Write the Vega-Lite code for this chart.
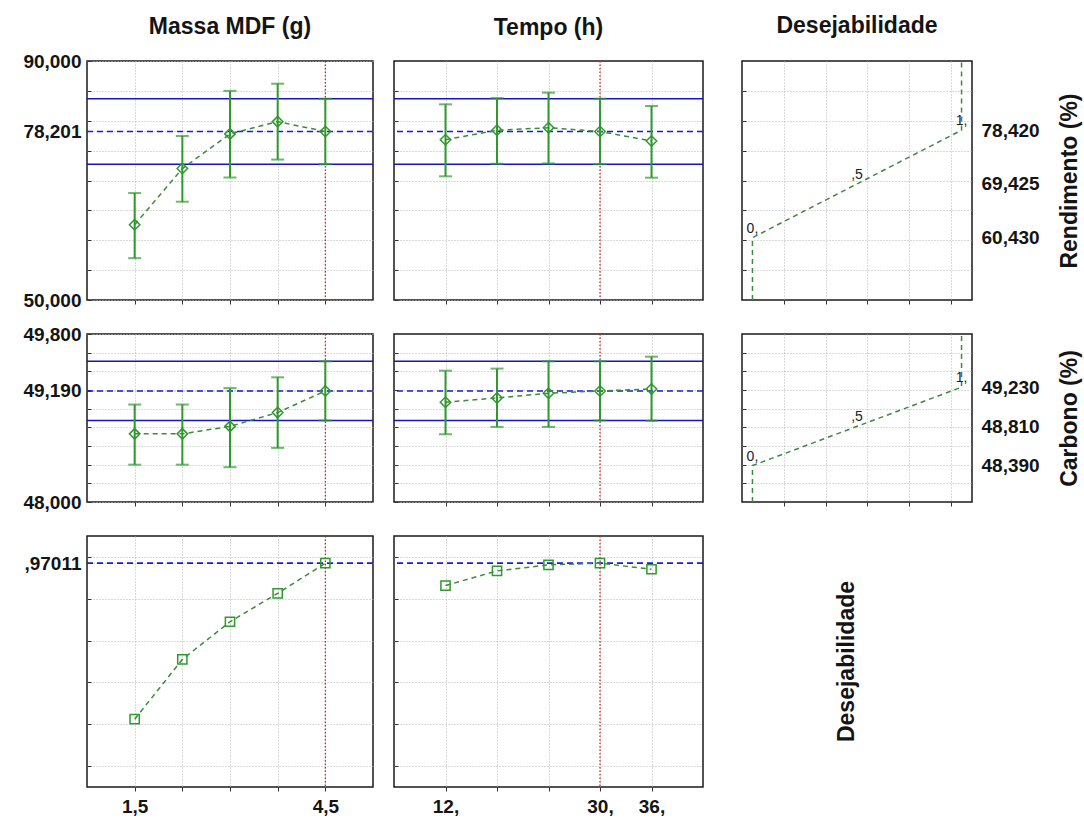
{
 "$schema": "https://vega.github.io/schema/vega-lite/v6.json",
 "background": "white",
 "padding": {"left": 22, "top": 14, "right": 6, "bottom": 6},
 "columns": 3,
 "spacing": {"row": 13, "column": 17},
 "align": "each",
 "bounds": "full",
 "datasets": {
  "prof": [
   {"resp":"R","fac":"M","x":1.5,"y":62.6,"lo":57.0,"hi":67.9},
   {"resp":"R","fac":"M","x":2.25,"y":72.0,"lo":66.45,"hi":77.45},
   {"resp":"R","fac":"M","x":3,"y":77.8,"lo":70.5,"hi":85.0},
   {"resp":"R","fac":"M","x":3.75,"y":79.85,"lo":73.5,"hi":86.2},
   {"resp":"R","fac":"M","x":4.5,"y":78.201,"lo":72.71,"hi":83.69},
   {"resp":"R","fac":"T","x":12,"y":76.83,"lo":70.7,"hi":82.75},
   {"resp":"R","fac":"T","x":18,"y":78.4,"lo":72.8,"hi":83.8},
   {"resp":"R","fac":"T","x":24,"y":78.84,"lo":72.85,"hi":84.7},
   {"resp":"R","fac":"T","x":30,"y":78.201,"lo":72.71,"hi":83.69},
   {"resp":"R","fac":"T","x":36,"y":76.61,"lo":70.47,"hi":82.47},
   {"resp":"C","fac":"M","x":1.5,"y":48.73,"lo":48.4,"hi":49.044},
   {"resp":"C","fac":"M","x":2.25,"y":48.73,"lo":48.4,"hi":49.044},
   {"resp":"C","fac":"M","x":3,"y":48.81,"lo":48.373,"hi":49.22},
   {"resp":"C","fac":"M","x":3.75,"y":48.958,"lo":48.58,"hi":49.336},
   {"resp":"C","fac":"M","x":4.5,"y":49.19,"lo":48.873,"hi":49.507},
   {"resp":"C","fac":"T","x":12,"y":49.069,"lo":48.726,"hi":49.407},
   {"resp":"C","fac":"T","x":18,"y":49.115,"lo":48.805,"hi":49.429},
   {"resp":"C","fac":"T","x":24,"y":49.165,"lo":48.805,"hi":49.507},
   {"resp":"C","fac":"T","x":30,"y":49.19,"lo":48.873,"hi":49.507},
   {"resp":"C","fac":"T","x":36,"y":49.21,"lo":48.87,"hi":49.557},
   {"resp":"D","fac":"M","x":1.5,"y":0.224},
   {"resp":"D","fac":"M","x":2.25,"y":0.51},
   {"resp":"D","fac":"M","x":3,"y":0.69},
   {"resp":"D","fac":"M","x":3.75,"y":0.826},
   {"resp":"D","fac":"M","x":4.5,"y":0.97011},
   {"resp":"D","fac":"T","x":12,"y":0.863},
   {"resp":"D","fac":"T","x":18,"y":0.933},
   {"resp":"D","fac":"T","x":24,"y":0.962},
   {"resp":"D","fac":"T","x":30,"y":0.97011},
   {"resp":"D","fac":"T","x":36,"y":0.941}
  ],
  "refs": [
   {"resp":"R","pred":78.201,"lo":72.71,"hi":83.69},
   {"resp":"C","pred":49.19,"lo":48.873,"hi":49.507},
   {"resp":"D","pred":0.97011}
  ],
  "cur": [{"fac":"M","x":4.5},{"fac":"T","x":30}],
  "desir": [
   {"resp":"R","o":1,"d":0,"y":50},{"resp":"R","o":2,"d":0,"y":60.43},{"resp":"R","o":3,"d":1,"y":78.42},{"resp":"R","o":4,"d":1,"y":90},
   {"resp":"C","o":1,"d":0,"y":48},{"resp":"C","o":2,"d":0,"y":48.39},{"resp":"C","o":3,"d":1,"y":49.23},{"resp":"C","o":4,"d":1,"y":49.8}
  ],
  "dlab": [
   {"resp":"R","d":0,"y":60.43,"t":"0,"},{"resp":"R","d":0.5,"y":69.425,"t":",5"},{"resp":"R","d":1,"y":78.42,"t":"1,"},
   {"resp":"C","d":0,"y":48.39,"t":"0,"},{"resp":"C","d":0.5,"y":48.81,"t":",5"},{"resp":"C","d":1,"y":49.23,"t":"1,"}
  ]
 },
 "concat": [
  {
   "width": 286, "height": 239,
   "title": {"text": "Massa MDF (g)", "offset": 13},
   "layer": [
    {"data":{"name":"refs"},"transform":[{"filter":"datum.resp=='R'"}],"mark":{"type":"rule","color":"#1414c4","strokeWidth":1.5},
     "encoding":{"y":{"field":"lo","type":"quantitative","scale":{"domain":[50,90],"nice":false,"zero":false},
       "axis":{"values":[50,55,60,65,70,75,78.201,80,85,89.9999],"tickCount":50,"labelExpr":"datum.value>89.99?'90,000':datum.value==78.201?'78,201':datum.value==50?'50,000':''","labelOverlap":false,"tickSize":-4,"labelPadding":10,"minExtent":64,"maxExtent":64,"title":null}}}},
    {"data":{"name":"refs"},"transform":[{"filter":"datum.resp=='R'"}],"mark":{"type":"rule","color":"#1414c4","strokeWidth":1.5},"encoding":{"y":{"field":"hi","type":"quantitative"}}},
    {"data":{"name":"refs"},"transform":[{"filter":"datum.resp=='R'"}],"mark":{"type":"rule","color":"#1a1ae0","strokeWidth":1.6,"strokeDash":[6,4]},"encoding":{"y":{"field":"pred","type":"quantitative"}}},
    {"data":{"name":"cur"},"transform":[{"filter":"datum.fac=='M'"}],"mark":{"type":"rule","color":"#e01010","strokeWidth":1.2,"strokeDash":[1.5,2]},
     "encoding":{"x":{"field":"x","type":"quantitative","scale":{"domain":[0.75,5.25],"nice":false,"zero":false},"axis":{"values":[1.5,2.25,3,3.75,4.5],"tickCount":50,"labels":false,"tickSize":4,"title":null}}}},
    {"data":{"name":"prof"},"transform":[{"filter":"datum.resp=='R' && datum.fac=='M'"}],"mark":{"type":"errorbar","color":"#2e9a2e","thickness":2,"ticks":{"size":13,"color":"#2e9a2e","strokeWidth":2}},
     "encoding":{"x":{"field":"x","type":"quantitative"},"y":{"field":"lo","type":"quantitative"},"y2":{"field":"hi"}}},
    {"data":{"name":"prof"},"transform":[{"filter":"datum.resp=='R' && datum.fac=='M'"}],"mark":{"type":"line","color":"#3c8a3c","strokeWidth":1.5,"strokeDash":[5,4]},
     "encoding":{"x":{"field":"x","type":"quantitative"},"y":{"field":"y","type":"quantitative"}}},
    {"data":{"name":"prof"},"transform":[{"filter":"datum.resp=='R' && datum.fac=='M'"}],"mark":{"type":"point","shape":"diamond","filled":false,"color":"#2e9a2e","size":110,"strokeWidth":1.5,"opacity":1},
     "encoding":{"x":{"field":"x","type":"quantitative"},"y":{"field":"y","type":"quantitative"}}}
   ]
  },
  {
   "width": 309, "height": 239,
   "title": {"text": "Tempo (h)"},
   "layer": [
    {"data":{"name":"refs"},"transform":[{"filter":"datum.resp=='R'"}],"mark":{"type":"rule","color":"#1414c4","strokeWidth":1.5},
     "encoding":{"y":{"field":"lo","type":"quantitative","scale":{"domain":[50,90],"nice":false,"zero":false},
       "axis":{"values":[50,55,60,65,70,75,80,85],"tickCount":50,"labels":false,"tickSize":-4,"minExtent":0,"maxExtent":0,"title":null}}}},
    {"data":{"name":"refs"},"transform":[{"filter":"datum.resp=='R'"}],"mark":{"type":"rule","color":"#1414c4","strokeWidth":1.5},"encoding":{"y":{"field":"hi","type":"quantitative"}}},
    {"data":{"name":"refs"},"transform":[{"filter":"datum.resp=='R'"}],"mark":{"type":"rule","color":"#1a1ae0","strokeWidth":1.6,"strokeDash":[6,4]},"encoding":{"y":{"field":"pred","type":"quantitative"}}},
    {"data":{"name":"cur"},"transform":[{"filter":"datum.fac=='T'"}],"mark":{"type":"rule","color":"#e01010","strokeWidth":1.2,"strokeDash":[1.5,2]},
     "encoding":{"x":{"field":"x","type":"quantitative","scale":{"domain":[6,42],"nice":false,"zero":false},"axis":{"values":[12,18,24,30,36],"tickCount":50,"labels":false,"tickSize":4,"title":null}}}},
    {"data":{"name":"prof"},"transform":[{"filter":"datum.resp=='R' && datum.fac=='T'"}],"mark":{"type":"errorbar","color":"#2e9a2e","thickness":2,"ticks":{"size":13,"color":"#2e9a2e","strokeWidth":2}},
     "encoding":{"x":{"field":"x","type":"quantitative"},"y":{"field":"lo","type":"quantitative"},"y2":{"field":"hi"}}},
    {"data":{"name":"prof"},"transform":[{"filter":"datum.resp=='R' && datum.fac=='T'"}],"mark":{"type":"line","color":"#3c8a3c","strokeWidth":1.5,"strokeDash":[5,4]},
     "encoding":{"x":{"field":"x","type":"quantitative"},"y":{"field":"y","type":"quantitative"}}},
    {"data":{"name":"prof"},"transform":[{"filter":"datum.resp=='R' && datum.fac=='T'"}],"mark":{"type":"point","shape":"diamond","filled":false,"color":"#2e9a2e","size":110,"strokeWidth":1.5,"opacity":1},
     "encoding":{"x":{"field":"x","type":"quantitative"},"y":{"field":"y","type":"quantitative"}}}
   ]
  },
  {
   "width": 230, "height": 239,
   "title": {"text": "Desejabilidade"},
   "resolve": {"axis": {"y": "independent"}},
   "layer": [
    {"data":{"name":"desir"},"transform":[{"filter":"datum.resp=='R'"}],"mark":{"type":"line","color":"#3c8a3c","strokeWidth":1.5,"strokeDash":[5,4]},
     "encoding":{
      "x":{"field":"d","type":"quantitative","scale":{"domain":[-0.05,1.05],"nice":false,"zero":false},"axis":{"values":[0.15,0.35,0.55,0.75,0.95],"tickCount":50,"labels":false,"tickSize":4,"title":null}},
      "y":{"field":"y","type":"quantitative","scale":{"domain":[50,90],"nice":false,"zero":false},"axis":{"orient":"left","values":[55,60,65,70,75,80,85],"tickCount":50,"labels":false,"tickSize":-4,"minExtent":19,"maxExtent":19,"title":null}},
      "order":{"field":"o","type":"quantitative"}}},
    {"data":{"name":"dlab"},"transform":[{"filter":"datum.resp=='R'"}],"mark":{"type":"text","baseline":"bottom","align":"center","dy":-2,"fontSize":14,"color":"#222222"},
     "encoding":{
      "x":{"field":"d","type":"quantitative","axis":{"title":null}},
      "y":{"field":"y","type":"quantitative","axis":{"orient":"right","values":[60.43,69.425,78.42],"tickCount":50,"labelExpr":"replace(format(datum.value,'.3f'),'.',',')","labelOverlap":false,"grid":false,"ticks":false,"labelPadding":9,"minExtent":0,"title":"Rendimento (%)","titleAngle":270,"titleBaseline":"top","titlePadding":19}},
      "text":{"field":"t"}}}
   ]
  },
  {
   "width": 286, "height": 168,
   "layer": [
    {"data":{"name":"refs"},"transform":[{"filter":"datum.resp=='C'"}],"mark":{"type":"rule","color":"#1414c4","strokeWidth":1.5},
     "encoding":{"y":{"field":"lo","type":"quantitative","scale":{"domain":[48,49.8],"nice":false,"zero":false},
       "axis":{"values":[48,48.2,48.4,48.6,48.8,49,49.19,49.2,49.4,49.6,49.79999],"tickCount":50,"labelExpr":"datum.value>49.79?'49,800':datum.value==49.19?'49,190':datum.value==48?'48,000':''","labelOverlap":false,"tickSize":-4,"labelPadding":10,"minExtent":64,"maxExtent":64,"title":null}}}},
    {"data":{"name":"refs"},"transform":[{"filter":"datum.resp=='C'"}],"mark":{"type":"rule","color":"#1414c4","strokeWidth":1.5},"encoding":{"y":{"field":"hi","type":"quantitative"}}},
    {"data":{"name":"refs"},"transform":[{"filter":"datum.resp=='C'"}],"mark":{"type":"rule","color":"#1a1ae0","strokeWidth":1.6,"strokeDash":[6,4]},"encoding":{"y":{"field":"pred","type":"quantitative"}}},
    {"data":{"name":"cur"},"transform":[{"filter":"datum.fac=='M'"}],"mark":{"type":"rule","color":"#e01010","strokeWidth":1.2,"strokeDash":[1.5,2]},
     "encoding":{"x":{"field":"x","type":"quantitative","scale":{"domain":[0.75,5.25],"nice":false,"zero":false},"axis":{"values":[1.5,2.25,3,3.75,4.5],"tickCount":50,"labels":false,"tickSize":4,"title":null}}}},
    {"data":{"name":"prof"},"transform":[{"filter":"datum.resp=='C' && datum.fac=='M'"}],"mark":{"type":"errorbar","color":"#2e9a2e","thickness":2,"ticks":{"size":13,"color":"#2e9a2e","strokeWidth":2}},
     "encoding":{"x":{"field":"x","type":"quantitative"},"y":{"field":"lo","type":"quantitative"},"y2":{"field":"hi"}}},
    {"data":{"name":"prof"},"transform":[{"filter":"datum.resp=='C' && datum.fac=='M'"}],"mark":{"type":"line","color":"#3c8a3c","strokeWidth":1.5,"strokeDash":[5,4]},
     "encoding":{"x":{"field":"x","type":"quantitative"},"y":{"field":"y","type":"quantitative"}}},
    {"data":{"name":"prof"},"transform":[{"filter":"datum.resp=='C' && datum.fac=='M'"}],"mark":{"type":"point","shape":"diamond","filled":false,"color":"#2e9a2e","size":110,"strokeWidth":1.5,"opacity":1},
     "encoding":{"x":{"field":"x","type":"quantitative"},"y":{"field":"y","type":"quantitative"}}}
   ]
  },
  {
   "width": 309, "height": 168,
   "layer": [
    {"data":{"name":"refs"},"transform":[{"filter":"datum.resp=='C'"}],"mark":{"type":"rule","color":"#1414c4","strokeWidth":1.5},
     "encoding":{"y":{"field":"lo","type":"quantitative","scale":{"domain":[48,49.8],"nice":false,"zero":false},
       "axis":{"values":[48,48.2,48.4,48.6,48.8,49,49.2,49.4,49.6],"tickCount":50,"labels":false,"tickSize":-4,"minExtent":0,"maxExtent":0,"title":null}}}},
    {"data":{"name":"refs"},"transform":[{"filter":"datum.resp=='C'"}],"mark":{"type":"rule","color":"#1414c4","strokeWidth":1.5},"encoding":{"y":{"field":"hi","type":"quantitative"}}},
    {"data":{"name":"refs"},"transform":[{"filter":"datum.resp=='C'"}],"mark":{"type":"rule","color":"#1a1ae0","strokeWidth":1.6,"strokeDash":[6,4]},"encoding":{"y":{"field":"pred","type":"quantitative"}}},
    {"data":{"name":"cur"},"transform":[{"filter":"datum.fac=='T'"}],"mark":{"type":"rule","color":"#e01010","strokeWidth":1.2,"strokeDash":[1.5,2]},
     "encoding":{"x":{"field":"x","type":"quantitative","scale":{"domain":[6,42],"nice":false,"zero":false},"axis":{"values":[12,18,24,30,36],"tickCount":50,"labels":false,"tickSize":4,"title":null}}}},
    {"data":{"name":"prof"},"transform":[{"filter":"datum.resp=='C' && datum.fac=='T'"}],"mark":{"type":"errorbar","color":"#2e9a2e","thickness":2,"ticks":{"size":13,"color":"#2e9a2e","strokeWidth":2}},
     "encoding":{"x":{"field":"x","type":"quantitative"},"y":{"field":"lo","type":"quantitative"},"y2":{"field":"hi"}}},
    {"data":{"name":"prof"},"transform":[{"filter":"datum.resp=='C' && datum.fac=='T'"}],"mark":{"type":"line","color":"#3c8a3c","strokeWidth":1.5,"strokeDash":[5,4]},
     "encoding":{"x":{"field":"x","type":"quantitative"},"y":{"field":"y","type":"quantitative"}}},
    {"data":{"name":"prof"},"transform":[{"filter":"datum.resp=='C' && datum.fac=='T'"}],"mark":{"type":"point","shape":"diamond","filled":false,"color":"#2e9a2e","size":110,"strokeWidth":1.5,"opacity":1},
     "encoding":{"x":{"field":"x","type":"quantitative"},"y":{"field":"y","type":"quantitative"}}}
   ]
  },
  {
   "width": 230, "height": 168,
   "resolve": {"axis": {"y": "independent"}},
   "layer": [
    {"data":{"name":"desir"},"transform":[{"filter":"datum.resp=='C'"}],"mark":{"type":"line","color":"#3c8a3c","strokeWidth":1.5,"strokeDash":[5,4]},
     "encoding":{
      "x":{"field":"d","type":"quantitative","scale":{"domain":[-0.05,1.05],"nice":false,"zero":false},"axis":{"values":[0.15,0.35,0.55,0.75,0.95],"tickCount":50,"labels":false,"tickSize":4,"title":null}},
      "y":{"field":"y","type":"quantitative","scale":{"domain":[48,49.8],"nice":false,"zero":false},"axis":{"orient":"left","values":[48.2,48.4,48.6,48.8,49,49.2,49.4,49.6],"tickCount":50,"labels":false,"tickSize":-4,"minExtent":19,"maxExtent":19,"title":null}},
      "order":{"field":"o","type":"quantitative"}}},
    {"data":{"name":"dlab"},"transform":[{"filter":"datum.resp=='C'"}],"mark":{"type":"text","baseline":"bottom","align":"center","dy":-2,"fontSize":14,"color":"#222222"},
     "encoding":{
      "x":{"field":"d","type":"quantitative","axis":{"title":null}},
      "y":{"field":"y","type":"quantitative","axis":{"orient":"right","values":[48.39,48.81,49.23],"tickCount":50,"labelExpr":"replace(format(datum.value,'.3f'),'.',',')","labelOverlap":false,"grid":false,"ticks":false,"labelPadding":9,"minExtent":0,"title":"Carbono (%)","titleAngle":270,"titleBaseline":"top","titlePadding":19}},
      "text":{"field":"t"}}}
   ]
  },
  {
   "width": 286, "height": 251,
   "layer": [
    {"data":{"name":"refs"},"transform":[{"filter":"datum.resp=='D'"}],"mark":{"type":"rule","color":"#1a1ae0","strokeWidth":1.6,"strokeDash":[6,4]},
     "encoding":{"y":{"field":"pred","type":"quantitative","scale":{"domain":[-0.1,1.1],"nice":false,"zero":false},
       "axis":{"values":[0,0.2,0.4,0.6,0.8,0.97011,1],"tickCount":50,"labelExpr":"datum.value==0.97011?',97011':''","labelOverlap":false,"tickSize":-4,"labelPadding":10,"minExtent":64,"maxExtent":64,"title":null}}}},
    {"data":{"name":"cur"},"transform":[{"filter":"datum.fac=='M'"}],"mark":{"type":"rule","color":"#e01010","strokeWidth":1.2,"strokeDash":[1.5,2]},
     "encoding":{"x":{"field":"x","type":"quantitative","scale":{"domain":[0.75,5.25],"nice":false,"zero":false},"axis":{"values":[1.5,2.25,3,3.75,4.5],"tickCount":50,"labelExpr":"datum.value==1.5?'1,5':datum.value==4.5?'4,5':''","labelOverlap":false,"tickSize":4,"labelPadding":6,"title":null}}}},
    {"data":{"name":"prof"},"transform":[{"filter":"datum.resp=='D' && datum.fac=='M'"}],"mark":{"type":"line","color":"#3c8a3c","strokeWidth":1.5,"strokeDash":[5,4]},
     "encoding":{"x":{"field":"x","type":"quantitative"},"y":{"field":"y","type":"quantitative"}}},
    {"data":{"name":"prof"},"transform":[{"filter":"datum.resp=='D' && datum.fac=='M'"}],"mark":{"type":"point","shape":"square","filled":false,"color":"#2e9a2e","size":85,"strokeWidth":1.5,"opacity":1},
     "encoding":{"x":{"field":"x","type":"quantitative"},"y":{"field":"y","type":"quantitative"}}}
   ]
  },
  {
   "width": 309, "height": 251,
   "layer": [
    {"data":{"name":"refs"},"transform":[{"filter":"datum.resp=='D'"}],"mark":{"type":"rule","color":"#1a1ae0","strokeWidth":1.6,"strokeDash":[6,4]},
     "encoding":{"y":{"field":"pred","type":"quantitative","scale":{"domain":[-0.1,1.1],"nice":false,"zero":false},
       "axis":{"values":[0,0.2,0.4,0.6,0.8,1],"tickCount":50,"labels":false,"tickSize":-4,"minExtent":0,"maxExtent":0,"title":null}}}},
    {"data":{"name":"cur"},"transform":[{"filter":"datum.fac=='T'"}],"mark":{"type":"rule","color":"#e01010","strokeWidth":1.2,"strokeDash":[1.5,2]},
     "encoding":{"x":{"field":"x","type":"quantitative","scale":{"domain":[6,42],"nice":false,"zero":false},"axis":{"values":[12,18,24,30,36],"tickCount":50,"labelExpr":"datum.value==12?'12,':datum.value==30?'30,':datum.value==36?'36,':''","labelOverlap":false,"tickSize":4,"labelPadding":6,"title":null}}}},
    {"data":{"name":"prof"},"transform":[{"filter":"datum.resp=='D' && datum.fac=='T'"}],"mark":{"type":"line","color":"#3c8a3c","strokeWidth":1.5,"strokeDash":[5,4]},
     "encoding":{"x":{"field":"x","type":"quantitative"},"y":{"field":"y","type":"quantitative"}}},
    {"data":{"name":"prof"},"transform":[{"filter":"datum.resp=='D' && datum.fac=='T'"}],"mark":{"type":"point","shape":"square","filled":false,"color":"#2e9a2e","size":85,"strokeWidth":1.5,"opacity":1},
     "encoding":{"x":{"field":"x","type":"quantitative"},"y":{"field":"y","type":"quantitative"}}}
   ]
  },
  {
   "width": 210, "height": 251,
   "view": {"stroke": null},
   "data": {"values": [{"t": "Desejabilidade", "p": 0.5}]},
   "mark": {"type": "text", "angle": 270, "fontSize": 23, "fontWeight": "bold", "align": "center", "baseline": "middle", "color": "#141414"},
   "encoding": {
    "text": {"field": "t"},
    "x": {"field": "p", "type": "quantitative", "scale": {"domain": [0, 1]}, "axis": {"orient": "top", "ticks": false, "labels": false, "grid": false, "domain": false, "title": null, "minExtent": 10, "maxExtent": 10}}
   }
  }
 ],
 "config": {
  "font": "Liberation Sans",
  "view": {"stroke": "#1a1a1a", "strokeWidth": 1.5},
  "axis": {"domain": false, "grid": true, "gridColor": "#b5b5b5", "gridDash": [1, 2], "gridWidth": 1, "tickColor": "#333333", "tickWidth": 1,
   "labelFont": "Liberation Sans", "labelFontSize": 19, "labelFontWeight": "bold", "labelColor": "#141414",
   "titleFont": "Liberation Sans", "titleFontSize": 23, "titleFontWeight": "bold", "titleColor": "#141414",
   "labelOverlap": false, "labelFlush": false, "labelBound": false},
  "title": {"font": "Liberation Sans", "fontSize": 23, "fontWeight": "bold", "color": "#141414", "anchor": "middle", "frame": "group", "offset": 20}
 }
}
